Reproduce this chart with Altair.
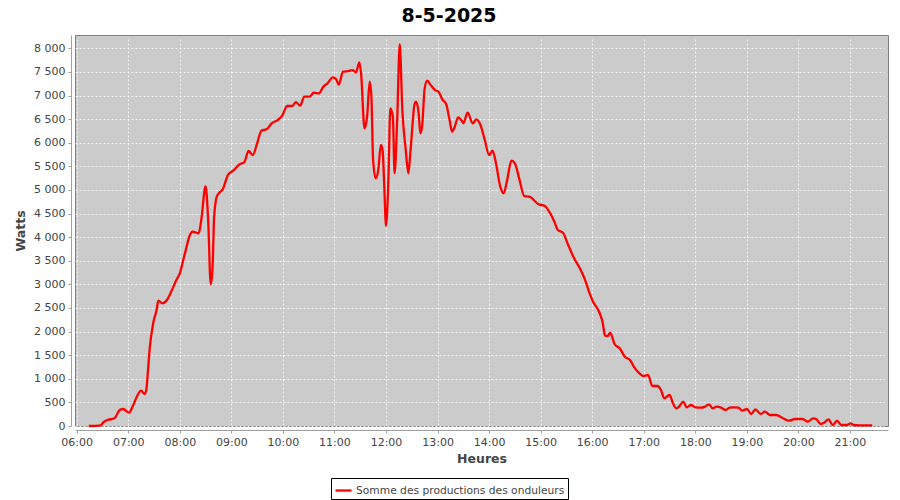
import altair as alt
import pandas as pd

# ---- data ----
times = [
    "06:14", "06:28", "06:31", "06:36", "06:44", "06:50", "06:54", "07:01", "07:05", "07:10",
    "07:15", "07:19", "07:21", "07:23", "07:25", "07:29", "07:33", "07:35", "07:40", "07:45",
    "07:50", "07:56", "08:00", "08:04", "08:07", "08:11", "08:15", "08:22", "08:25", "08:30",
    "08:33", "08:36", "08:38", "08:40", "08:43", "08:46", "08:50", "08:56", "09:02", "09:10",
    "09:15", "09:20", "09:25", "09:30", "09:35", "09:41", "09:47", "09:54", "09:59", "10:05",
    "10:11", "10:15", "10:20", "10:25", "10:31", "10:36", "10:42", "10:47", "10:52", "10:58",
    "11:02", "11:05", "11:10", "11:16", "11:21", "11:25", "11:29", "11:31", "11:35", "11:38",
    "11:41", "11:43", "11:45", "11:48", "11:51", "11:54", "11:56", "11:58", "12:00", "12:03",
    "12:05", "12:08", "12:10", "12:13", "12:16", "12:19", "12:23", "12:26", "12:28", "12:31",
    "12:33", "12:35", "12:38", "12:40", "12:42", "12:45", "12:48", "12:52", "12:57", "13:01",
    "13:06", "13:10", "13:14", "13:17", "13:20", "13:24", "13:28", "13:30", "13:35", "13:41",
    "13:45", "13:50", "13:55", "14:00", "14:04", "14:08", "14:13", "14:17", "14:21", "14:26",
    "14:30", "14:35", "14:41", "14:47", "14:52", "14:57", "15:05", "15:10", "15:16", "15:20",
    "15:26", "15:32", "15:40", "15:45", "15:51", "15:57", "16:01", "16:08", "16:12", "16:15",
    "16:18", "16:21", "16:26", "16:32", "16:38", "16:44", "16:49", "16:55", "17:00", "17:05",
    "17:10", "17:16", "17:20", "17:24", "17:30", "17:34", "17:38", "17:41", "17:46", "17:50",
    "17:55", "18:00", "18:07", "18:11", "18:16", "18:20", "18:25", "18:30", "18:35", "18:40",
    "18:44", "18:50", "18:55", "19:00", "19:05", "19:10", "19:16", "19:21", "19:27", "19:34",
    "19:41", "19:49", "19:56", "20:05", "20:11", "20:17", "20:21", "20:26", "20:30", "20:35",
    "20:40", "20:45", "20:50", "20:56", "21:01", "21:04", "21:11", "21:19", "21:26",
]
watts = [
    0, 15, 78, 127, 163, 339, 360, 282, 409, 621,
    748, 678, 762, 1186, 1645, 2175, 2457, 2654, 2599, 2669,
    2845, 3092, 3234, 3516, 3728, 4009, 4115, 4081, 4363, 5080,
    4363, 3000, 3304, 4433, 4857, 4941, 5013, 5316, 5407, 5549,
    5585, 5825, 5740, 5988, 6255, 6284, 6411, 6481, 6566, 6778,
    6778, 6862, 6784, 6975, 6975, 7059, 7046, 7186, 7258, 7385,
    7343, 7230, 7504, 7519, 7540, 7491, 7703, 7470, 6305, 6551,
    7292, 6975, 5634, 5246, 5422, 5952, 5846, 5069, 4240, 5352,
    6729, 6551, 5352, 6481, 8090, 6693, 5846, 5352, 5704, 6411,
    6799, 6869, 6623, 6199, 6340, 7152, 7314, 7222, 7116, 7081,
    6905, 6820, 6481, 6234, 6340, 6538, 6467, 6411, 6636, 6411,
    6496, 6375, 6058, 5740, 5831, 5564, 5069, 4928, 5210, 5619,
    5564, 5246, 4871, 4857, 4787, 4702, 4660, 4539, 4327, 4151,
    4094, 3834, 3516, 3361, 3128, 2811, 2633, 2421, 2209, 1913,
    1906, 1976, 1737, 1645, 1468, 1398, 1243, 1116, 1059, 1080,
    847, 847, 762, 587, 657, 481, 375, 409, 515, 396,
    445, 396, 388, 409, 460, 375, 409, 388, 339, 388,
    396, 388, 324, 360, 254, 353, 254, 303, 233, 233,
    176, 112, 148, 148, 91, 163, 142, 42, 70, 142,
    21, 112, 21, 21, 57, 21, 15, 15, 15,
]
series_name = "Somme des productions des onduleurs"
chart_title = "8-5-2025"
x_tick_hours = [6, 7, 8, 9, 10, 11, 12, 13, 14, 15, 16, 17, 18, 19, 20, 21]
y_tick_values = [0, 500, 1000, 1500, 2000, 2500, 3000, 3500, 4000,
                 4500, 5000, 5500, 6000, 6500, 7000, 7500, 8000]

assert len(times) == len(watts)


def to_hours(t):
    h, m = t.split(":")
    return int(h) + int(m) / 60.0


df = pd.DataFrame({
    "heure": [to_hours(t) for t in times],
    "watts": watts,
    "serie": [series_name] * len(times),
})
title_df = pd.DataFrame({"t": [chart_title]})

FONT = "DejaVu Sans"
LABEL_COLOR = "#444444"
AXIS_GRAY = "#a0a0a0"

line = alt.Chart(df).mark_line(strokeWidth=2.3, interpolate="monotone").encode(
    x=alt.X(
        "heure:Q",
        scale=alt.Scale(domain=[5.967, 21.738], nice=False, zero=False),
        axis=alt.Axis(
            values=x_tick_hours,
            labelExpr="(datum.value < 10 ? '0' : '') + datum.value + ':00'",
            title="Heures",
            titlePadding=5,
        ),
    ),
    y=alt.Y(
        "watts:Q",
        scale=alt.Scale(domain=[0, 8282], nice=False),
        axis=alt.Axis(
            values=y_tick_values,
            labelExpr="replace(format(datum.value, ','), ',', ' ')",
            title="Watts",
            titlePadding=6,
        ),
    ),
    color=alt.Color(
        "serie:N",
        scale=alt.Scale(range=["#ff0000"]),
        legend=alt.Legend(
            title=None,
            orient="none",
            legendX=256,
            legendY=443,
            symbolType="stroke",
            symbolSize=256,
            symbolStrokeWidth=2.3,
            labelFont=FONT,
            labelFontSize=10.7,
            labelColor=LABEL_COLOR,
            labelOffset=3,
            labelLimit=400,
            strokeColor="black",
            fillColor="white",
            padding=3,
        ),
    ),
)

title_text = alt.Chart(title_df).mark_text(
    font=FONT,
    fontSize=19,
    fontWeight="bold",
    color="black",
    align="center",
    baseline="alphabetic",
).encode(
    text="t:N",
    x=alt.value(374),
    y=alt.value(-13.5),
)

chart = alt.layer(line, title_text).properties(
    width=813,
    height=391,
    autosize=alt.AutoSizeParams(type="none"),
    padding={"left": 67, "top": 27, "right": 4, "bottom": 74},
    background="white",
).configure_view(
    fill="#cbcbcb",
    stroke="#808080",
    strokeWidth=1,
).configure_axis(
    offset=4,
    domainColor=AXIS_GRAY,
    tickColor=AXIS_GRAY,
    tickSize=3,
    labelFont=FONT,
    labelFontSize=11,
    labelColor=LABEL_COLOR,
    labelPadding=3,
    titleFont=FONT,
    titleFontSize=12.5,
    titleFontWeight="bold",
    titleColor=LABEL_COLOR,
    grid=True,
    gridColor="#ffffff",
    gridOpacity=0.75,
    gridDash=[2, 2],
    gridWidth=1,
)

chart.save("out.html", embed_options={"renderer": "svg", "actions": False})
